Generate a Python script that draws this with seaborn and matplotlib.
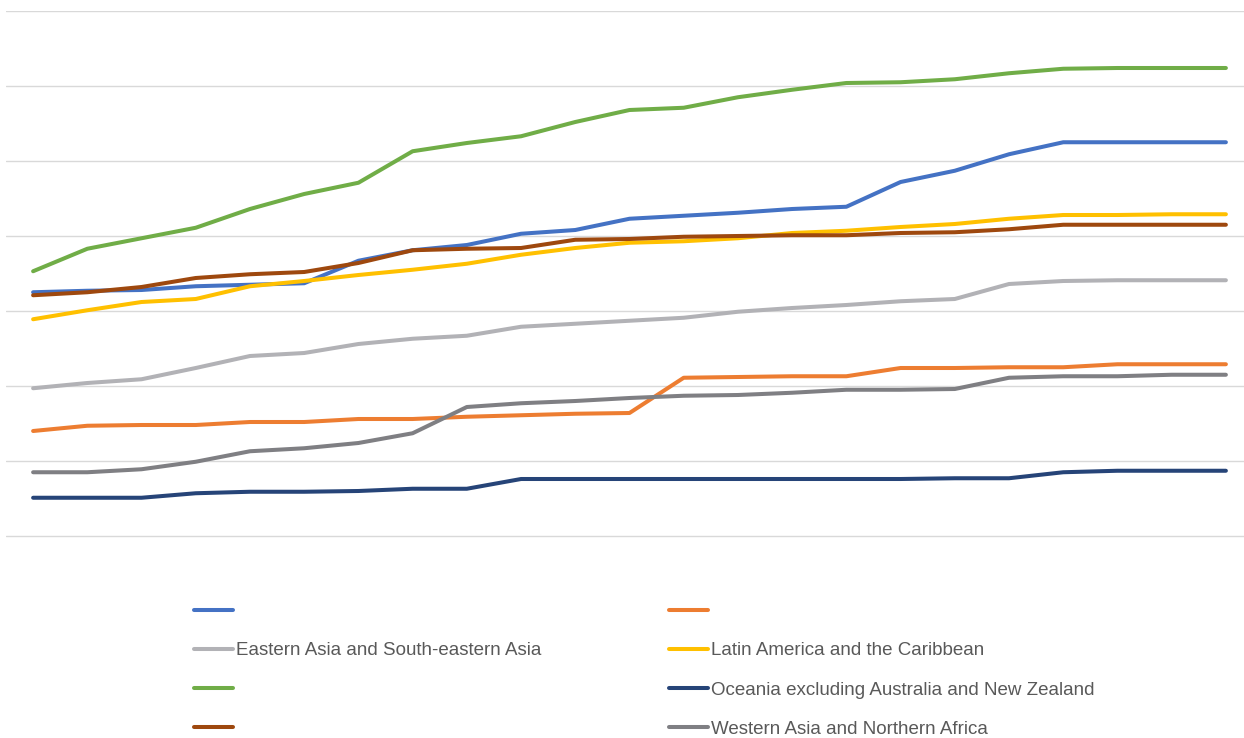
import matplotlib
matplotlib.use("Agg")
import matplotlib.pyplot as plt
from matplotlib.lines import Line2D
from matplotlib import font_manager
import numpy as np
import pandas as pd
import seaborn as sns

# Yearly points along the category axis
periods = list(range(23))

series_keys = ["blue", "orange", "eastern_asia", "latin_america",
               "green", "oceania", "brown", "western_asia"]
legend_labels = ["", "",
                 "Eastern Asia and South-eastern Asia", "Latin America and the Caribbean",
                 "", "Oceania excluding Australia and New Zealand",
                 "", "Western Asia and Northern Africa"]
colors = ["#4472C4", "#ED7D31", "#B2B2B6", "#FFC000",
          "#70AD47", "#264478", "#9E480E", "#7F7F83"]

blue = [32.5, 32.7, 32.8, 33.3, 33.5, 33.7, 36.7, 38.1, 38.8, 40.3, 40.8, 42.3,
        42.7, 43.1, 43.6, 43.9, 47.2, 48.7, 50.9, 52.5, 52.5, 52.5, 52.5]
orange = [14.0, 14.7, 14.8, 14.8, 15.2, 15.2, 15.6, 15.6, 15.9, 16.1, 16.3, 16.4,
          21.1, 21.2, 21.3, 21.3, 22.4, 22.4, 22.5, 22.5, 22.9, 22.9, 22.9]
eastern_asia = [19.7, 20.4, 20.9, 22.4, 24.0, 24.4, 25.6, 26.3, 26.7, 27.9, 28.3, 28.7,
                29.1, 29.9, 30.4, 30.8, 31.3, 31.6, 33.6, 34.0, 34.1, 34.1, 34.1]
latin_america = [28.9, 30.1, 31.2, 31.6, 33.3, 34.0, 34.8, 35.5, 36.3, 37.5, 38.4, 39.1,
                 39.3, 39.7, 40.4, 40.7, 41.2, 41.6, 42.3, 42.8, 42.8, 42.9, 42.9]
green = [35.3, 38.3, 39.7, 41.1, 43.6, 45.6, 47.1, 51.3, 52.4, 53.3, 55.2, 56.8,
         57.1, 58.5, 59.5, 60.4, 60.5, 60.9, 61.7, 62.3, 62.4, 62.4, 62.4]
oceania = [5.1, 5.1, 5.1, 5.7, 5.9, 5.9, 6.0, 6.3, 6.3, 7.6, 7.6, 7.6,
           7.6, 7.6, 7.6, 7.6, 7.6, 7.7, 7.7, 8.5, 8.7, 8.7, 8.7]
brown = [32.1, 32.5, 33.2, 34.4, 34.9, 35.2, 36.4, 38.1, 38.3, 38.4, 39.5, 39.6,
         39.9, 40.0, 40.1, 40.1, 40.4, 40.5, 40.9, 41.5, 41.5, 41.5, 41.5]
western_asia = [8.5, 8.5, 8.9, 9.9, 11.3, 11.7, 12.4, 13.7, 17.2, 17.7, 18.0, 18.4,
                18.7, 18.8, 19.1, 19.5, 19.5, 19.6, 21.1, 21.3, 21.3, 21.5, 21.5]

values = [blue, orange, eastern_asia, latin_america, green, oceania, brown, western_asia]

df = pd.DataFrame(
    [(key, p, v) for key, vals in zip(series_keys, values) for p, v in zip(periods, vals)],
    columns=["series", "period", "value"],
)

sns.set_theme(style="white")
available = {f.name for f in font_manager.fontManager.ttflist}
narrow = "Liberation Sans Narrow" if "Liberation Sans Narrow" in available else "Liberation Sans"
plt.rcParams["font.family"] = [narrow, "DejaVu Sans"]

W, H = 1244, 738
fig = plt.figure(figsize=(W / 100, H / 100), dpi=100)
# Plot area in pixels: categories 6..1253 wide, value 0 at y=536, 70 at y=11
left_px, right_px, top_px, bottom_px = 6, 1253, 11, 540
ax = fig.add_axes([left_px / W, 1 - bottom_px / H,
                   (right_px - left_px) / W, (bottom_px - top_px) / H])

palette = dict(zip(series_keys, colors))
sns.lineplot(data=df, x="period", y="value", hue="series", hue_order=series_keys,
             palette=palette, linewidth=2.9, ax=ax, legend=False,
             solid_capstyle="round", solid_joinstyle="round")

ax.set_xlim(-0.5, len(periods) - 0.5)
ax.set_ylim(-70 * 4 / 525, 70)
ax.set_yticks(np.arange(0, 71, 10))
ax.yaxis.grid(True, color="#D9D9D9", linewidth=1.0)
ax.xaxis.grid(False)
ax.set_axisbelow(True)
ax.tick_params(left=False, bottom=False, labelleft=False, labelbottom=False)
for s in ax.spines.values():
    s.set_visible(False)
ax.set_xlabel("")
ax.set_ylabel("")

# Legend: two columns, filled column by column
handles = [Line2D([0], [0], color=c, linewidth=2.9, solid_capstyle="round") for c in colors]
order = [0, 2, 4, 6, 1, 3, 5, 7]
fig.legend([handles[i] for i in order], [legend_labels[i] for i in order],
           ncol=2, loc="upper left", bbox_to_anchor=(194 / W, 1 - 603 / H),
           frameon=False, fontsize=13.5, labelcolor="#595959",
           handlelength=2.1, handletextpad=0.15, columnspacing=6.8,
           labelspacing=1.18, borderaxespad=0, borderpad=0)

fig.savefig("out.png", dpi=100)
